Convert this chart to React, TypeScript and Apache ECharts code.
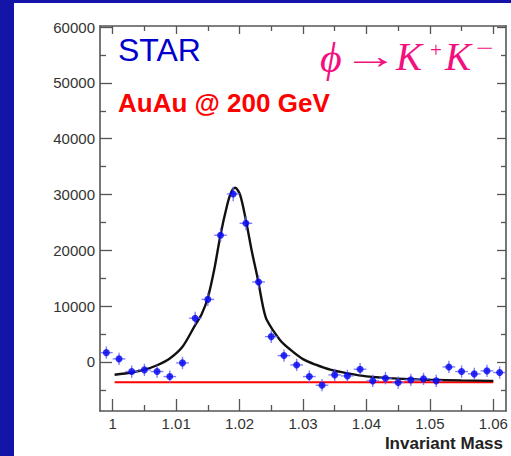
import React, { useEffect, useRef } from "react";
import * as echarts from "echarts";

// Invariant-mass bins (bin centres) and background-subtracted counts
const massBins = [
  0.999, 1.001, 1.003, 1.005, 1.007, 1.009, 1.011, 1.013, 1.015, 1.017, 1.019,
  1.021, 1.023, 1.025, 1.027, 1.029, 1.031, 1.033, 1.035, 1.037, 1.039, 1.041,
  1.043, 1.045, 1.047, 1.049, 1.051, 1.053, 1.055, 1.057, 1.059, 1.061,
];
const counts = [
  1660, 540, -1730, -1430, -1730, -2630, -180, 7830, 11200, 22700, 30100,
  24840, 14330, 4530, 1130, -540, -2630, -4180, -2330, -2510, -1310, -3400,
  -2920, -3700, -3220, -3040, -3400, -900, -1730, -2150, -1610, -1910,
];
const countErr = [
  1100, 1100, 1100, 1100, 1100, 1100, 1100, 1150, 1200, 1250, 1300,
  1250, 1200, 1150, 1100, 1100, 1100, 1100, 1100, 1100, 1100, 1100,
  1100, 1100, 1100, 1100, 1100, 1100, 1100, 1100, 1100, 1100,
];
const binHalfWidth = [0.001];

// Fit curve (Breit-Wigner + background)
const fitMass = [
  1.0003, 1.003, 1.005, 1.007, 1.009, 1.011, 1.013, 1.014, 1.015, 1.016, 1.017,
  1.018, 1.0186, 1.0193, 1.0201, 1.0211, 1.0219, 1.0229, 1.0237, 1.0243,
  1.0264, 1.028, 1.03, 1.032, 1.0343, 1.037, 1.04, 1.045, 1.05, 1.055, 1.06,
];
const fitCounts = [
  -2300, -1900, -1400, -600, 600, 2700, 6600, 8500, 11500, 16500, 22800,
  27900, 30200, 31200, 29900, 24800, 20000, 14700, 9900, 7500,
  3900, 2200, 500, -500, -1400, -2050, -2600, -3000, -3200, -3320, -3400,
];
// Residual background level
const bgMass = [1.0003, 1.06];
const bgCounts = [-3640, -3640];

// Axes
const xRange = [0.998, 1.062];
const xMajor = [1, 1.01, 1.02, 1.03, 1.04, 1.05, 1.06];
const xLabels = ["1", "1.01", "1.02", "1.03", "1.04", "1.05", "1.06"];
const xMinor = [1.005, 1.015, 1.025, 1.035, 1.045, 1.055];
const yRange = [-8800, 60200];
const yMajor = [0, 10000, 20000, 30000, 40000, 50000, 60000];
const yLabels = ["0", "10000", "20000", "30000", "40000", "50000", "60000"];
const yMinor = [-5000, 5000, 15000, 25000, 35000, 45000, 55000];

const FRAME = "#555555";
const SANS = '"Liberation Sans", Arial, Helvetica, sans-serif';
const SERIF = '"Liberation Serif", "DejaVu Serif", "Times New Roman", serif';
const PINK = "#f2107f";

function labelFor(values: number[], labels: string[], v: number) {
  const i = values.findIndex((t) => Math.abs(t - v) < 1e-9);
  return i >= 0 ? labels[i] : "";
}

function tickAxis(
  pos: string,
  range: number[],
  values: number[],
  len: number,
  withLine: boolean,
  label?: { values: number[]; labels: string[] }
): any {
  return {
    type: "value",
    position: pos,
    min: range[0],
    max: range[1],
    axisLine: { show: withLine, onZero: false, lineStyle: { color: FRAME, width: 1.6 } },
    axisTick: {
      show: true,
      inside: true,
      length: len,
      customValues: values,
      lineStyle: { color: FRAME, width: 1.3 },
    },
    axisLabel: label
      ? {
          show: true,
          customValues: label.values,
          formatter: (v: number) => labelFor(label.values, label.labels, v),
          fontSize: 15,
          color: "#333333",
          fontFamily: SANS,
          margin: 5,
        }
      : { show: false },
    splitLine: { show: false },
  };
}

export default function App() {
  const ref = useRef<HTMLDivElement>(null);

  useEffect(() => {
    if (!ref.current) return;
    const chart = echarts.init(ref.current, undefined, { renderer: "svg" });

    const points = massBins.map((m, i) => [m, counts[i]]);
    const errData = massBins.map((m, i) => [m, counts[i], countErr[i], binHalfWidth[0]]);

    const option: any = {
      animation: false,
      backgroundColor: "transparent",
      grid: { left: 100, top: 26, width: 406, height: 385, containLabel: false },
      xAxis: [
        tickAxis("bottom", xRange, xMajor, 12, true, { values: xMajor, labels: xLabels }),
        tickAxis("bottom", xRange, xMinor, 6, false),
        tickAxis("top", xRange, xMajor, 8, true),
        tickAxis("top", xRange, xMinor, 5, false),
      ],
      yAxis: [
        tickAxis("left", yRange, yMajor, 12, true, { values: yMajor, labels: yLabels }),
        tickAxis("left", yRange, yMinor, 6, false),
        tickAxis("right", yRange, yMajor, 9, true),
        tickAxis("right", yRange, yMinor, 5, false),
      ],
      series: [
        {
          type: "line",
          data: bgMass.map((m, i) => [m, bgCounts[i]]),
          symbol: "none",
          lineStyle: { color: "#ff0000", width: 2 },
          z: 3,
        },
        {
          type: "line",
          data: fitMass.map((m, i) => [m, fitCounts[i]]),
          symbol: "none",
          smooth: 0.3,
          lineStyle: { color: "#111111", width: 2.4 },
          z: 4,
        },
        {
          type: "custom",
          data: errData,
          z: 5,
          renderItem: (params: any, api: any) => {
            const x = api.value(0);
            const y = api.value(1);
            const e = api.value(2);
            const hw = api.value(3);
            const a = api.coord([x - hw, y]);
            const b = api.coord([x + hw, y]);
            const c = api.coord([x, y - e]);
            const d = api.coord([x, y + e]);
            const st = { stroke: "#6a6af8", lineWidth: 1.4, opacity: 0.85 };
            return {
              type: "group",
              children: [
                { type: "line", shape: { x1: a[0], y1: a[1], x2: b[0], y2: b[1] }, style: st },
                { type: "line", shape: { x1: c[0], y1: c[1], x2: d[0], y2: d[1] }, style: st },
              ],
            };
          },
        },
        {
          type: "scatter",
          data: points,
          symbol: "circle",
          symbolSize: 7,
          itemStyle: { color: "#0000f0" },
          z: 6,
        },
      ],
      graphic: [
        {
          type: "text",
          x: 118,
          y: 50,
          z: 100,
          style: { text: "STAR", fill: "#0000cc", fontSize: 32, fontFamily: SANS, align: "left", verticalAlign: "middle" },
        },
        {
          type: "text",
          x: 118,
          y: 103,
          z: 100,
          style: {
            text: "AuAu @ 200 GeV",
            fill: "#ff0000",
            fontSize: 26,
            fontWeight: "bold",
            fontFamily: SANS,
            align: "left",
            verticalAlign: "middle",
          },
        },
        {
          type: "text",
          x: 320,
          y: 58,
          z: 100,
          style: { text: "ϕ", fill: PINK, fontSize: 42, fontStyle: "italic", fontFamily: SERIF, align: "left", verticalAlign: "middle" },
        },
        {
          type: "text",
          x: 343,
          y: 56,
          z: 100,
          scaleX: 1.55,
          style: { text: "→", fill: PINK, fontSize: 36, fontFamily: SERIF, align: "left", verticalAlign: "middle" },
        },
        {
          type: "text",
          x: 396,
          y: 56,
          z: 100,
          style: { text: "K", fill: PINK, fontSize: 39, fontStyle: "italic", fontFamily: SERIF, align: "left", verticalAlign: "middle" },
        },
        {
          type: "text",
          x: 430,
          y: 50,
          z: 100,
          style: { text: "+", fill: PINK, fontSize: 21, fontFamily: SERIF, align: "left", verticalAlign: "middle" },
        },
        {
          type: "text",
          x: 445,
          y: 56,
          z: 100,
          style: { text: "K", fill: PINK, fontSize: 39, fontStyle: "italic", fontFamily: SERIF, align: "left", verticalAlign: "middle" },
        },
        {
          type: "text",
          x: 476,
          y: 48,
          z: 100,
          scaleX: 1.3,
          style: { text: "−", fill: PINK, fontSize: 24, fontFamily: SERIF, align: "left", verticalAlign: "middle" },
        },
        {
          type: "text",
          x: 503,
          y: 443,
          z: 100,
          style: {
            text: "Invariant Mass",
            fill: "#222222",
            fontSize: 17,
            fontWeight: "bold",
            fontFamily: SANS,
            align: "right",
            verticalAlign: "middle",
          },
        },
      ],
    };

    chart.setOption(option);
    return () => chart.dispose();
  }, []);

  return (
    <div style={{ position: "fixed", left: 0, top: 0, width: 511, height: 456, background: "#1414a8", overflow: "hidden" }}>
      <div style={{ position: "absolute", left: 14, top: 3, right: 0, bottom: 0, background: "#ffffff" }} />
      <div ref={ref} style={{ position: "absolute", left: 0, top: 0, width: 511, height: 456 }} />
    </div>
  );
}
